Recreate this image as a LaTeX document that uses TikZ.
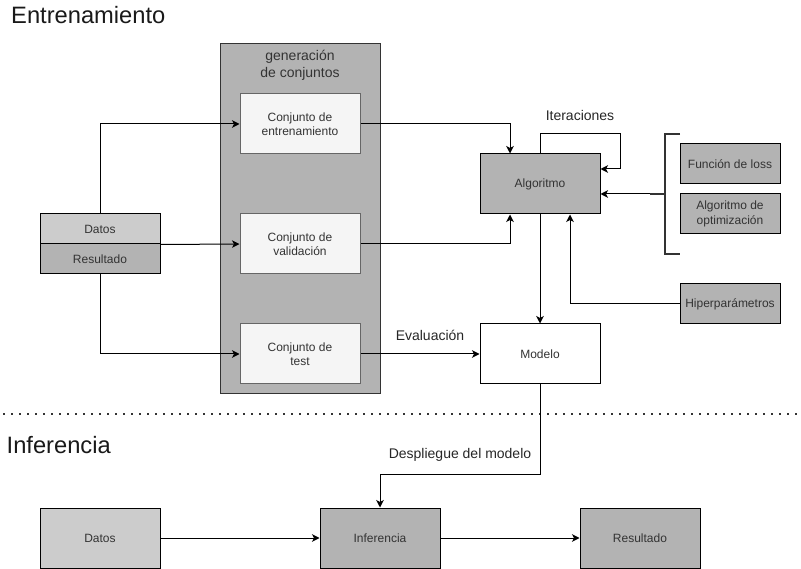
\documentclass[tikz,border=0pt]{standalone}
\usepackage{fontspec}
\setmainfont{Liberation Sans}
\usetikzlibrary{arrows.meta}
\definecolor{gA}{HTML}{CCCCCC}
\definecolor{gB}{HTML}{B3B3B3}
\definecolor{gF}{HTML}{F5F5F5}
\definecolor{gS}{HTML}{666666}
\definecolor{tx}{HTML}{333333}
\definecolor{dk}{HTML}{333333}
\begin{document}
\begin{tikzpicture}[x=1pt,y=-1pt,
  box/.style={draw=black, line width=1pt, minimum width=120pt, minimum height=60pt,
    inner sep=0pt, align=center, font=\fontsize{12}{14.5}\selectfont, text=tx},
  setbox/.style={box, fill=gF, draw=gS},
  smallbox/.style={box, minimum width=100pt, minimum height=40pt, fill=gB},
  halfbox/.style={box, minimum height=30pt},
  lbl/.style={font=\fontsize{14}{17}\selectfont, text=black!85, inner sep=0pt, align=center},
  ttl/.style={font=\fontsize{23.7}{28}\selectfont, text=black!90, inner sep=0pt, anchor=base west},
  arr/.style={draw=black, line width=1pt, -{Stealth[length=7.5pt,width=7.5pt,inset=2pt]}},
  brk/.style={draw=dk, line width=2pt}
]
\useasboundingbox (0,0) rectangle (801,569);

% titles
\node[ttl] (t1) at (11,23.5) {Entrenamiento};
\node[ttl] (t2) at (6.5,453.3) {Inferencia};

% panel
\node[draw=dk, fill=gB, line width=1pt, minimum width=160pt, minimum height=350pt, inner sep=0pt] (panel) at (300,219) {};
\node[lbl, text=tx] (ptitle) at (300,65) {generación\\de conjuntos};

% set boxes
\node[setbox] (entr) at (300,124) {Conjunto de\\entrenamiento};
\node[setbox] (val) at (300,244) {Conjunto de\\validación};
\node[setbox] (test) at (300,354) {Conjunto de\\test};

% datos / resultado
\node[halfbox, fill=gA] (datos) at (100,229) {Datos};
\node[halfbox, fill=gB] (resul) at (100,259) {Resultado};

% algorithm & model
\node[box, fill=gB] (algo) at (540,184) {Algoritmo};
\node[box, fill=white] (modelo) at (540,354) {Modelo};

% right boxes
\node[smallbox] (loss) at (730,164) {Función de loss};
\node[smallbox] (optim) at (730,214) {Algoritmo de\\optimización};
\node[smallbox] (hiper) at (730,304) {Hiperparámetros};

% bottom row
\node[box, fill=gA] (datos2) at (100,538) {Datos};
\node[box, fill=gB] (inf) at (380,538) {Inferencia};
\node[box, fill=gB] (res2) at (640,538) {Resultado};

% connectors from datos
\draw[arr] (datos.north) |- (entr.west);
\draw[arr] (datos.south east) -- (val.west);
\draw[arr] (resul.south) |- (test.west);

% to algorithm
\draw[arr] (entr.east) -| ([xshift=-30pt]algo.north);
\draw[arr] (val.east) -| ([xshift=-30pt]algo.south);

% iterations loop
\coordinate (itc) at (620,134);
\draw[arr] (algo.north) |- (itc) |- ([yshift=15pt]algo.east);
\node[lbl] (itl) at (580,115) {Iteraciones};

% bracket
\coordinate (bt) at (680,134);
\coordinate (bb) at (680,254);
\coordinate (bm) at (650,194);
\draw[brk] (bt) -- (665,134) -- (665,254) -- (bb);
\draw[brk] (665,194) -- (bm);
\draw[arr] (bm) -- ([yshift=-10pt]algo.east);

% hyperparameters
\draw[arr] (hiper.west) -| ([xshift=30pt]algo.south);

% algorithm to model
\draw[arr] (algo.south) -- (modelo.north);

% evaluation
\draw[arr] (test.east) -- (modelo.west);
\node[lbl] (evl) at (430,335) {Evaluación};

% separator
\coordinate (s1) at (3,414);
\coordinate (s2) at (798,414);
\draw[draw=dk, line width=1.6pt, dash pattern=on 1.6pt off 6.4pt] (s1) -- (s2);

% deployment
\draw[arr] (modelo.south) -- ++(0,90) -| (inf.north);
\node[lbl] (dpl) at (460,455) {Despliegue del modelo};

% bottom flow
\draw[arr] (datos2.east) -- (inf.west);
\draw[arr] (inf.east) -- (res2.west);
\end{tikzpicture}
\end{document}
